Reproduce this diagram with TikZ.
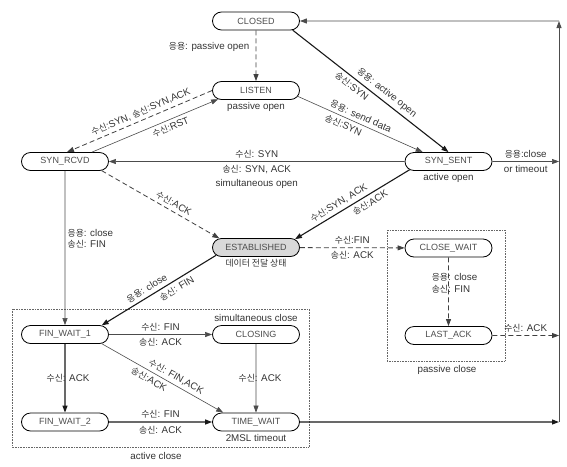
\documentclass[tikz,border=0pt]{standalone}
\usepackage{fontspec}
\setmainfont{Liberation Sans}
\newfontfamily\krfont[Scale=0.9]{Noto Sans CJK KR}
\newcommand{\ko}[1]{{\krfont #1}}
\usetikzlibrary{arrows.meta,shapes.misc}

\begin{document}
\begin{tikzpicture}[x=1pt, y=-1pt,
	every node/.append style = {font=\fontsize{9.8}{11.5}\selectfont, text=black!80},
	state/.style = {draw, rounded rectangle, minimum width=87pt, minimum height=18pt, inner sep=0pt, line width=0.8pt, font=\fontsize{9}{10}\selectfont, text=black!70},
	thinline/.style = {line width=0.6pt, draw=black!70, -{Triangle[length=7pt,width=5pt]}},
	thickline/.style = {line width=1.1pt, draw=black!90, -{Triangle[length=7pt,width=5pt]}},
	dashline/.style = {line width=0.8pt, draw=black!75, dash pattern=on 5pt off 3pt, -{Triangle[length=7pt,width=5pt]}},
	boxline/.style = {line width=0.6pt, draw=black!60, densely dotted}]
		\useasboundingbox (0,0) rectangle (567,466);
		%Tilat
		\node[state] (closed) at (256,21) {CLOSED};
		\node[state] (listen) at (256,90.5) {LISTEN};
		\node[state] (synrcvd) at (65,161.5) {SYN\_RCVD};
		\node[state] (synsent) at (448.5,161.5) {SYN\_SENT};
		\node[state, fill=black!15] (estab) at (256,247.5) {ESTABLISHED};
		\node[state] (closewait) at (448.5,248) {CLOSE\_WAIT};
		\node[state] (lastack) at (448.5,335.5) {LAST\_ACK};
		\node[state] (finwait1) at (65,334.5) {FIN\_WAIT\_1};
		\node[state] (closing) at (256,334.5) {CLOSING};
		\node[state] (finwait2) at (65,422) {FIN\_WAIT\_2};
		\node[state] (timewait) at (256,422) {TIME\_WAIT};
		% Selitteet
		\node[below=-1pt] (listendesc) at (listen.south) {passive open};
		\node[below=-1pt] (sentdesc) at (synsent.south) {active open};
		\node[below=-1pt] (estabdesc) at (estab.south) {\ko{데이터 전달 상태}};
		\node[above] (closingdesc) at (closing.north) {simultaneous close};
		\node[below=-1pt] (timedesc) at (timewait.south) {2MSL timeout};
		% Laatikot
		\draw[boxline] (12,309) rectangle (309,447);
		\node (activeclose) at (156,456) {active close};
		\draw[boxline] (387,230) rectangle (505,361);
		\node (passiveclose) at (447,370) {passive close};
		% Oikea reuna
		\coordinate (top) at (559,21);
		\coordinate (outsent) at (559,161.5);
		\coordinate (outlast) at (559,335.5);
		\coordinate (outtime) at (559,422);
		% Siirtymat
		\draw[dashline] (closed) -- node[pos=0.33, left=3pt] {\ko{응용}: passive open} (listen);	% CLOSED-LISTEN
		\draw[dashline] (listen.west) -- node[pos=0.47, above, sloped] {\ko{수신}:SYN, \ko{송신}:SYN,ACK} ([xshift=2pt]synrcvd.north);	% LISTEN-SYN_RCVD
		\draw[thinline] ([xshift=27pt]synrcvd.north) -- node[pos=0.6, below, sloped] {\ko{수신}:RST} (listen.193);	% SYN_RCVD-LISTEN
		\draw[thickline] (closed.-14) -- node[pos=0.57, above, sloped] {\ko{응용}: active open} node[pos=0.41, below, sloped] {\ko{송신}:SYN} (synsent.north);	% CLOSED-SYN_SENT
		\draw[thinline] (listen.-8) -- node[pos=0.48, above, sloped] {\ko{응용}: send data} node[pos=0.39, below, sloped] {\ko{송신}:SYN} (synsent.160);	% LISTEN-SYN_SENT
		\draw[thinline] (synsent) -- node[above] {\ko{수신}: SYN} node[below, align=center, font=\fontsize{9.8}{14}\selectfont] {\ko{송신}: SYN, ACK\\simultaneous open} (synrcvd);	% SYN_SENT-SYN_RCVD
		\draw[dashline] (synrcvd.-14) -- node[pos=0.58, above, sloped] {\ko{수신}:ACK} (estab.166);	% SYN_RCVD-ESTABLISHED
		\draw[thickline] (synsent.192) -- node[pos=0.58, above, sloped] {\ko{수신}:SYN, ACK} node[pos=0.38, below, sloped] {\ko{송신}:ACK} (estab.12);	% SYN_SENT-ESTABLISHED
		\draw[thinline] (synsent) -- node[above] {\ko{응용}:close} node[below] {or timeout} (outsent);	% SYN_SENT-out
		\draw[thinline] (synrcvd) -- node[pos=0.44, right=-1pt, align=left] {\ko{응용}: close\\\ko{송신}: FIN} (finwait1);	% SYN_RCVD-FIN_WAIT_1
		\draw[thickline] (estab.191) -- node[pos=0.57, above, sloped] {\ko{응용}: close} node[pos=0.38, below, sloped] {\ko{송신}: FIN} (finwait1.14);	% ESTABLISHED-FIN_WAIT_1
		\draw[dashline] (estab) -- node[above] {\ko{수신}:FIN} node[below] {\ko{송신}: ACK} (closewait);	% ESTABLISHED-CLOSE_WAIT
		\draw[dashline] (closewait) -- node[pos=0.38, align=left, xshift=6pt] {\ko{응용}: close\\\ko{송신}: FIN} (lastack);	% CLOSE_WAIT-LAST_ACK
		\draw[dashline] (lastack) -- node[above] {\ko{수신}: ACK} (outlast);	% LAST_ACK-out
		\draw[thinline] (finwait1) -- node[above] {\ko{수신}: FIN} node[below] {\ko{송신}: ACK} (closing);	% FIN_WAIT_1-CLOSING
		\draw[thinline] (finwait1.-14) -- node[pos=0.58, above, sloped] {\ko{수신}: FIN,ACK} node[pos=0.42, below, sloped] {\ko{송신}:ACK} (timewait.164);	% FIN_WAIT_1-TIME_WAIT
		\draw[thickline] (finwait1) -- node[xshift=3pt] {\ko{수신}: ACK} (finwait2);	% FIN_WAIT_1-FIN_WAIT_2
		\draw[thinline] (closing) -- node[xshift=4pt] {\ko{수신}: ACK} (timewait);	% CLOSING-TIME_WAIT
		\draw[thickline] (finwait2) -- node[above] {\ko{수신}: FIN} node[below] {\ko{송신}: ACK} (timewait);	% FIN_WAIT_2-TIME_WAIT
		\draw[thickline] (timewait) -- (outtime);	% TIME_WAIT-out
		\draw[thinline, line width=0.9pt] (outtime) -- (top);
		\draw[thinline, line width=0.9pt] (top) -- (closed);	% out-CLOSED
\end{tikzpicture}
\end{document}
